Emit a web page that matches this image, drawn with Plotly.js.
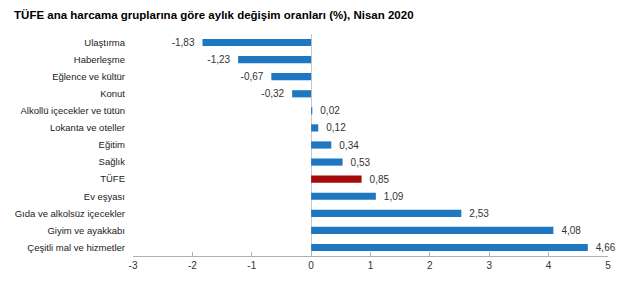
<!DOCTYPE html>
<html>
<head>
<meta charset="utf-8">
<script src="https://cdn.plot.ly/plotly-3.0.1.min.js"></script>
<style>html,body{margin:0;padding:0;background:#fff;}#chart{width:640px;height:282px;}</style>
</head>
<body>
<div id="chart"></div>
<script>
const categories = ["Ulaştırma","Haberleşme","Eğlence ve kültür","Konut","Alkollü içecekler ve tütün","Lokanta ve oteller","Eğitim","Sağlık","TÜFE","Ev eşyası","Gıda ve alkolsüz içecekler","Giyim ve ayakkabı","Çeşitli mal ve hizmetler"];
const values = [-1.83,-1.23,-0.67,-0.32,0.02,0.12,0.34,0.53,0.85,1.09,2.53,4.08,4.66];
const labels = ["-1,83","-1,23","-0,67","-0,32","0,02","0,12","0,34","0,53","0,85","1,09","2,53","4,08","4,66"];
const xTicks = [-3,-2,-1,0,1,2,3,4,5];
const highlight = "TÜFE";

const colors = categories.map(c => c === highlight ? "#a50a0a" : "#1f77c2");
const padded = labels.map((t, i) => values[i] < 0 ? t + "\u2002" : "\u2002" + t);

Plotly.newPlot("chart", [{
  type: "bar",
  orientation: "h",
  y: categories,
  x: values,
  text: padded,
  textposition: "outside",
  constraintext: "none",
  cliponaxis: false,
  textfont: {family: "Arial, Liberation Sans, sans-serif", size: 10, color: "#333"},
  marker: {color: colors},
  width: 0.42,
  hoverinfo: "skip"
}], {
  width: 640, height: 282,
  margin: {l: 133, r: 32, t: 34, b: 26},
  paper_bgcolor: "#fff", plot_bgcolor: "#fff",
  showlegend: false,
  title: {text: "<b>TÜFE ana harcama gruplarına göre aylık değişim oranları (%), Nisan 2020</b>",
    x: 0.022, xanchor: "left", y: 0.96, yanchor: "top",
    font: {family: "Arial, Liberation Sans, sans-serif", size: 11.5, color: "#000"}},
  xaxis: {
    range: [-3, 5], tickvals: xTicks, ticktext: xTicks.map(String),
    showgrid: false, zeroline: true, zerolinecolor: "#c8c8c8", zerolinewidth: 1,
    showline: true, linecolor: "#b0b0b0", linewidth: 1,
    ticks: "inside", ticklen: 4, tickcolor: "#b0b0b0",
    tickfont: {family: "Arial, Liberation Sans, sans-serif", size: 10, color: "#333"},
    fixedrange: true
  },
  yaxis: {
    autorange: "reversed", type: "category",
    showgrid: false, zeroline: false, showline: false, ticks: "",
    ticklabelstandoff: 7,
    tickfont: {family: "Arial, Liberation Sans, sans-serif", size: 9.5, color: "#222"},
    fixedrange: true
  },
  bargap: 0.58,
  font: {family: "Arial, Liberation Sans, sans-serif"}
}, {displayModeBar: false, staticPlot: true});
</script>
</body>
</html>
